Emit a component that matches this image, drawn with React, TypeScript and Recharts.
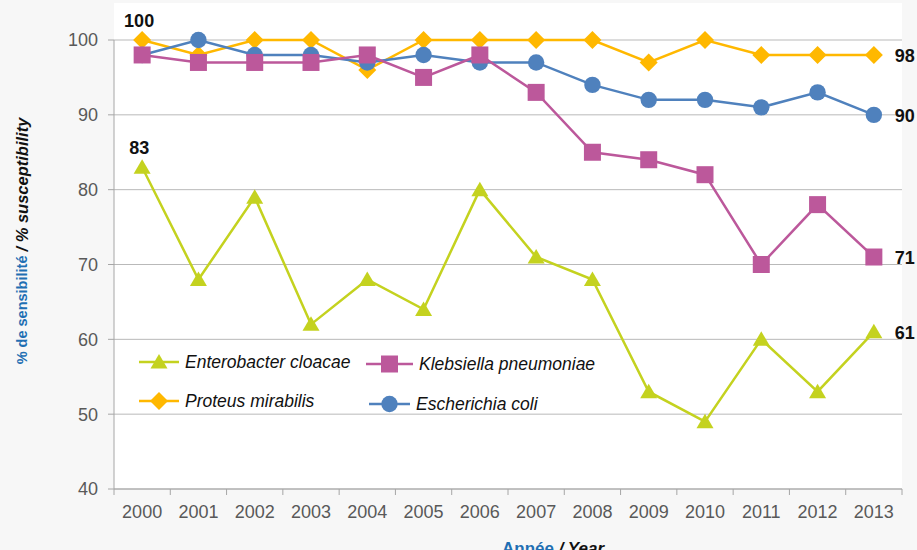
import React from 'react';
import { CartesianGrid, Label, LabelList, Legend, Line, LineChart, XAxis, YAxis } from 'recharts';

const years = ['2000', '2001', '2002', '2003', '2004', '2005', '2006', '2007', '2008', '2009', '2010', '2011', '2012', '2013'];
const enterobacter = [83, 68, 79, 62, 68, 64, 80, 71, 68, 53, 49, 60, 53, 61];
const klebsiella = [98, 97, 97, 97, 98, 95, 98, 93, 85, 84, 82, 70, 78, 71];
const proteus = [100, 98, 100, 100, 96, 100, 100, 100, 100, 97, 100, 98, 98, 98];
const escherichia = [98, 100, 98, 98, 97, 98, 97, 97, 94, 92, 92, 91, 93, 90];
const yTicks = [40, 50, 60, 70, 80, 90, 100];

const rows = years.map((year, i) => ({
  i,
  year,
  ent: enterobacter[i],
  kle: klebsiella[i],
  pro: proteus[i],
  esc: escherichia[i],
}));

// integer ticks carry the year labels, half ticks carry the tick marks between years
const xTicks = years.flatMap((_, i) => (i === 0 ? [-0.5, 0, 0.5] : [i, i + 0.5]));

type Shape = 'triangle' | 'square' | 'diamond' | 'circle';

// draw order: enterobacter, proteus, e. coli, klebsiella (klebsiella on top)
const series: { key: string; name: string; color: string; shape: Shape; top: number[]; right: number[] }[] = [
  { key: 'ent', name: 'Enterobacter cloacae', color: '#C4D21F', shape: 'triangle', top: [0], right: [13] },
  { key: 'pro', name: 'Proteus mirabilis', color: '#FFB800', shape: 'diamond', top: [0], right: [13] },
  { key: 'esc', name: 'Escherichia coli', color: '#4F81BD', shape: 'circle', top: [], right: [13] },
  { key: 'kle', name: 'Klebsiella pneumoniae', color: '#BC589B', shape: 'square', top: [], right: [13] },
];

const FONT = '"Liberation Sans", Arial, Helvetica, sans-serif';
const AXIS = '#a6a6a6';
const TICK_TEXT = '#595959';
const BLUE = '#1F6FB3';

function Marker({ shape, color, cx, cy }: { shape: Shape; color: string; cx: number; cy: number }) {
  switch (shape) {
    case 'triangle':
      return <polygon points={`${cx},${cy - 8} ${cx + 8.5},${cy + 6.5} ${cx - 8.5},${cy + 6.5}`} fill={color} />;
    case 'square':
      return <rect x={cx - 8.5} y={cy - 8.5} width={17} height={17} fill={color} />;
    case 'diamond':
      return <polygon points={`${cx},${cy - 9} ${cx + 9},${cy} ${cx},${cy + 9} ${cx - 9},${cy}`} fill={color} />;
    default:
      return <circle cx={cx} cy={cy} r={8.2} fill={color} />;
  }
}

const renderDot = (shape: Shape, color: string) => (props: any) => {
  const { cx, cy, index } = props;
  if (cx == null || cy == null) return <g key={`d-${index}`} />;
  return (
    <g key={`d-${index}`}>
      <Marker shape={shape} color={color} cx={cx} cy={cy} />
    </g>
  );
};

const renderValueLabel = (top: number[], right: number[]) => (props: any) => {
  const { x, y, value, index } = props;
  const common = { fontFamily: FONT, fontWeight: 'bold' as const, fontSize: 18, fill: '#111' };
  if (top.includes(index)) {
    return (
      <text x={x - 3} y={y - 19} textAnchor="middle" dominantBaseline="central" {...common}>
        {value}
      </text>
    );
  }
  if (right.includes(index)) {
    return (
      <text x={x + 21} y={y + 1} textAnchor="start" dominantBaseline="central" {...common}>
        {value}
      </text>
    );
  }
  return null;
};

function XTick(props: any) {
  const { x, y, payload } = props;
  const v = payload.value;
  if (Number.isInteger(v)) {
    return (
      <text x={x} y={y + 23} textAnchor="middle" dominantBaseline="central" fill={TICK_TEXT} fontSize={18} fontFamily={FONT}>
        {years[v]}
      </text>
    );
  }
  return <line x1={x} x2={x} y1={y} y2={y + 6} stroke={AXIS} />;
}

function YTitle() {
  return (
    <text
      x={22}
      y={241}
      transform="rotate(-90 22 241)"
      textAnchor="middle"
      dominantBaseline="central"
      fontWeight="bold"
      fontFamily={FONT}
    >
      <tspan fill={BLUE} fontSize={14.5}>% de sensibilité </tspan>
      <tspan fill="#111" fontSize={16.5} fontStyle="italic">/ % susceptibility</tspan>
    </text>
  );
}

function XTitle() {
  return (
    <text x={553} y={548} textAnchor="middle" dominantBaseline="central" fontWeight="bold" fontFamily={FONT} fontSize={17}>
      <tspan fill={BLUE}>Année </tspan>
      <tspan fill="#111" fontStyle="italic">/ Year</tspan>
    </text>
  );
}

// legend laid out 2 x 2 like the original
const legendSlots: Record<string, { x: number; y: number; len: number }> = {
  ent: { x: 9, y: 22, len: 40 },
  kle: { x: 236, y: 24, len: 47 },
  pro: { x: 9, y: 61, len: 40 },
  esc: { x: 239, y: 64, len: 41 },
};

function LegendBox() {
  return (
    <svg width={500} height={80} style={{ display: 'block' }}>
      {series.map((s) => {
        const p = legendSlots[s.key];
        const mid = p.x + p.len / 2;
        return (
          <g key={s.key}>
            <line x1={p.x} x2={p.x + p.len} y1={p.y} y2={p.y} stroke={s.color} strokeWidth={2.5} />
            <Marker shape={s.shape} color={s.color} cx={mid} cy={p.y} />
            <text
              x={p.x + p.len + 6}
              y={p.y}
              dominantBaseline="central"
              fontStyle="italic"
              fontSize={17.5}
              fontFamily={FONT}
              fill="#111"
            >
              {s.name}
            </text>
          </g>
        );
      })}
    </svg>
  );
}

export default function App() {
  return (
    <div style={{ position: 'absolute', left: 0, top: 0, width: 917, height: 550, background: '#f7f7f7', overflow: 'hidden' }}>
      {/* white plot panel */}
      <div style={{ position: 'absolute', left: 114, top: 3, width: 788, height: 486, background: '#ffffff' }} />
      <div style={{ position: 'absolute', left: 0, top: 0 }}>
        <LineChart
          width={917}
          height={550}
          data={rows}
          margin={{ top: 40, right: 15, bottom: 0, left: 0 }}
          style={{ fontFamily: FONT }}
        >
          <CartesianGrid vertical={false} stroke="#b9b9b9" />
          <XAxis
            type="number"
            dataKey="i"
            domain={[-0.5, years.length - 0.5]}
            ticks={xTicks}
            interval={0}
            tickLine={false}
            tickSize={0}
            tickMargin={0}
            tick={<XTick />}
            axisLine={{ stroke: AXIS }}
            height={61}
          >
            <Label content={<XTitle />} />
          </XAxis>
          <YAxis
            type="number"
            domain={[40, 100]}
            ticks={yTicks}
            width={114}
            tickSize={6}
            tickMargin={10}
            axisLine={{ stroke: AXIS }}
            tickLine={{ stroke: AXIS }}
            tick={{ fill: TICK_TEXT, fontSize: 18, fontFamily: FONT }}
          >
            <Label content={<YTitle />} />
          </YAxis>
          <Legend
            layout="horizontal"
            verticalAlign="middle"
            content={<LegendBox />}
            wrapperStyle={{ left: 130, top: 340, width: 500, height: 80 }}
          />
          {series.map((s) => (
            <Line
              key={s.key}
              type="linear"
              dataKey={s.key}
              name={s.name}
              stroke={s.color}
              strokeWidth={2.5}
              dot={renderDot(s.shape, s.color)}
              activeDot={false}
              isAnimationActive={false}
            >
              <LabelList dataKey={s.key} content={renderValueLabel(s.top, s.right)} />
            </Line>
          ))}
        </LineChart>
      </div>
    </div>
  );
}
